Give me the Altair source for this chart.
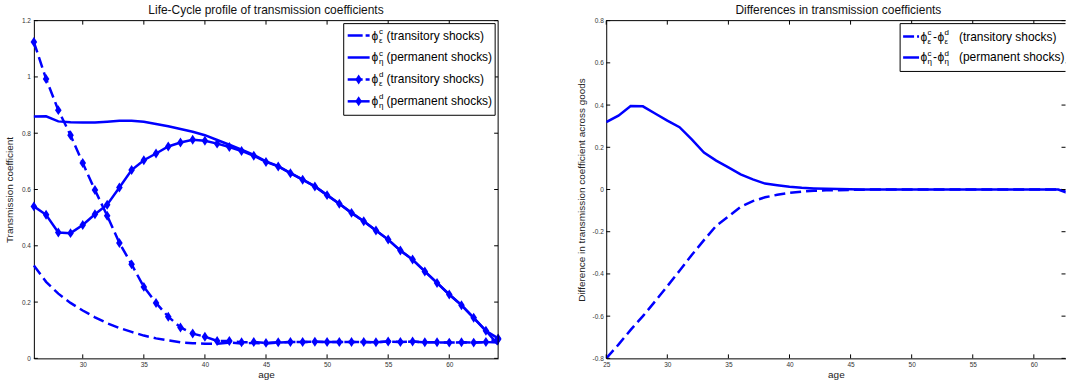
import altair as alt
import pandas as pd

# ---------------- data ----------------
ages_left = list(range(26, 65))
ages_right = list(range(25, 64))

phi_eps_c = [0.330, 0.272, 0.230, 0.197, 0.170, 0.146, 0.125, 0.108, 0.094, 0.081,
             0.071, 0.064, 0.057, 0.054, 0.052, 0.052, 0.056, 0.053, 0.055, 0.053,
             0.056, 0.058, 0.058, 0.059, 0.058, 0.058, 0.058, 0.058, 0.057, 0.060,
             0.058, 0.060, 0.057, 0.057, 0.056, 0.057, 0.056, 0.058, 0.056]
phi_eta_c = [0.859, 0.860, 0.842, 0.839, 0.838, 0.838, 0.841, 0.844, 0.844, 0.841,
             0.833, 0.825, 0.815, 0.805, 0.793, 0.776, 0.759, 0.742, 0.723, 0.700,
             0.683, 0.658, 0.635, 0.611, 0.580, 0.549, 0.517, 0.487, 0.454, 0.422,
             0.383, 0.351, 0.309, 0.268, 0.227, 0.189, 0.144, 0.098, 0.049]
phi_eps_d = [1.124, 0.993, 0.882, 0.793, 0.694, 0.598, 0.507, 0.410, 0.334, 0.254,
             0.197, 0.148, 0.110, 0.088, 0.077, 0.062, 0.062, 0.057, 0.058, 0.055,
             0.057, 0.058, 0.058, 0.059, 0.058, 0.058, 0.058, 0.058, 0.057, 0.060,
             0.058, 0.060, 0.057, 0.057, 0.056, 0.057, 0.056, 0.058, 0.068]
phi_eta_d = [0.540, 0.510, 0.447, 0.445, 0.474, 0.512, 0.546, 0.607, 0.669, 0.704,
             0.728, 0.753, 0.767, 0.777, 0.773, 0.763, 0.751, 0.737, 0.720, 0.698,
             0.682, 0.658, 0.635, 0.611, 0.580, 0.549, 0.517, 0.487, 0.454, 0.422,
             0.383, 0.351, 0.309, 0.268, 0.227, 0.189, 0.144, 0.098, 0.071]

diff_eps = [-0.800, -0.735, -0.665, -0.600, -0.530, -0.458, -0.385, -0.310, -0.240, -0.172,
            -0.128, -0.082, -0.055, -0.037, -0.025, -0.016, -0.010, -0.006, -0.004, -0.003,
            -0.002, -0.001, 0.000, 0.000, 0.000, 0.000, 0.000, 0.000, 0.000, 0.000,
            0.000, 0.000, 0.000, 0.000, 0.000, 0.000, 0.000, 0.000, -0.012]
diff_eta = [0.319, 0.350, 0.395, 0.394, 0.360, 0.326, 0.295, 0.237, 0.175, 0.137,
            0.105, 0.072, 0.048, 0.028, 0.020, 0.013, 0.008, 0.005, 0.003, 0.002,
            0.001, 0.000, 0.000, 0.000, 0.000, 0.000, 0.000, 0.000, 0.000, 0.000,
            0.000, 0.000, 0.000, 0.000, 0.000, 0.000, 0.000, 0.000, -0.022]

left_x_ticks = [30, 35, 40, 45, 50, 55, 60]
left_y_ticks = [0, 0.2, 0.4, 0.6, 0.8, 1.0, 1.2]
right_x_ticks = [25, 30, 35, 40, 45, 50, 55, 60]
right_y_ticks = [-0.8, -0.6, -0.4, -0.2, 0, 0.2, 0.4, 0.6, 0.8]

left_title = "Life-Cycle profile of transmission coefficients"
right_title = "Differences in transmission coefficients"
left_legend_labels = ["(transitory shocks)", "(permanent shocks)",
                      "(transitory shocks)", "(permanent shocks)"]
left_legend_sup = ["c", "c", "d", "d"]
left_legend_sub = ["ε", "η", "ε", "η"]
right_legend_labels = ["(transitory shocks)", "(permanent shocks)"]
right_legend_sub = ["ε", "η"]

# ---------------- style ----------------
BLUE = "#0000ff"
FONT = "Liberation Sans, Arial, Helvetica, sans-serif"
PHI = "\u03d5"
W_L, W_R, H = 466, 461, 339
X_MAX_R = 25 + W_R * 38 / W_L          # right panel is cut at the window edge
DASH = [11, 5]
DIAMOND = "M0,-1L0.66,0L0,1L-0.66,0Z"
DSIZE = 100
TICK = 4
LABEL_EXPR = "datum.value < 0 ? '-' + format(-datum.value, '~g') : format(datum.value, '~g')"


def main_x(title, ticks):
    return alt.Axis(orient="bottom", title=title, values=ticks, ticks=False, tickSize=0,
                    domain=True, domainColor="black", domainWidth=1, grid=False,
                    labelFont=FONT, labelFontSize=6.5, labelColor="#333", labelPadding=3,
                    labelFlush=False, labelOverlap=False, labelExpr=LABEL_EXPR,
                    titleFont=FONT, titleFontSize=10, titleFontWeight="normal",
                    titleColor="#222", titlePadding=1.5)


def main_y(title, ticks, lp, tp):
    return alt.Axis(orient="left", title=title, values=ticks, ticks=False, tickSize=0,
                    domain=True, domainColor="black", domainWidth=1, grid=False,
                    labelFont=FONT, labelFontSize=6.5, labelColor="#333", labelPadding=lp,
                    labelFlush=False, labelOverlap=False, labelExpr=LABEL_EXPR,
                    titleFont=FONT, titleFontSize=10, titleFontWeight="normal",
                    titleColor="#222", titlePadding=tp)


def series(df, xs, ys, xaxis=None, yaxis=None, dashed=False, points=False, clip=False):
    enc = dict(x=alt.X("age:Q", scale=xs, axis=xaxis), y=alt.Y("v:Q", scale=ys, axis=yaxis))
    if points:
        return alt.Chart(df).mark_point(shape=DIAMOND, filled=True, size=DSIZE, color=BLUE,
                                        opacity=1, clip=clip).encode(**enc)
    kw = dict(color=BLUE, strokeWidth=2.5, clip=clip)
    if dashed:
        kw["strokeDash"] = DASH
    return alt.Chart(df).mark_line(**kw).encode(**enc)


def inner_ticks(xticks, yticks, xs, ys, width):
    """MATLAB-style inward ticks on all four sides, placed through the scales."""
    dx = pd.DataFrame({"t": xticks})
    dy = pd.DataFrame({"t": yticks})
    rule = dict(color="black", strokeWidth=1)
    X = alt.X("t:Q", scale=xs, axis=None)
    Y = alt.Y("t:Q", scale=ys, axis=None)
    return [
        alt.Chart(dx).mark_rule(**rule).encode(x=X, y=alt.value(0), y2=alt.value(TICK)),
        alt.Chart(dx).mark_rule(**rule).encode(x=X, y=alt.value(H - TICK), y2=alt.value(H)),
        alt.Chart(dy).mark_rule(**rule).encode(y=Y, x=alt.value(0), x2=alt.value(TICK)),
        alt.Chart(dy).mark_rule(**rule).encode(y=Y, x=alt.value(width - TICK), x2=alt.value(width)),
    ]


one = pd.DataFrame({"k": [0]})


def hline(x1, x2, y):
    return alt.Chart(one).mark_rule(color="black", strokeWidth=1).encode(
        x=alt.value(x1), x2=alt.value(x2), y=alt.value(y))


def vline(x, y1, y2):
    return alt.Chart(one).mark_rule(color="black", strokeWidth=1).encode(
        x=alt.value(x), y=alt.value(y1), y2=alt.value(y2))


def txt(x, y, s, size=12, align="left", baseline="middle", color="black"):
    return alt.Chart(one).mark_text(align=align, baseline=baseline, font=FONT,
                                    fontSize=size, color=color).encode(
        x=alt.value(x), y=alt.value(y), text=alt.value(s))


def box(x1, x2, y1, y2, clip=False):
    return alt.Chart(one).mark_rect(fill="white", stroke="black", strokeWidth=1,
                                    clip=clip).encode(
        x=alt.value(x1), x2=alt.value(x2), y=alt.value(y1), y2=alt.value(y2))


def sample(x1, x2, y, dash):
    kw = dict(color=BLUE, strokeWidth=2.5)
    if dash:
        kw["strokeDash"] = dash
    return alt.Chart(one).mark_rule(**kw).encode(x=alt.value(x1), x2=alt.value(x2), y=alt.value(y))


def marker(x, y):
    return alt.Chart(one).mark_point(shape=DIAMOND, filled=True, size=DSIZE, color=BLUE,
                                     opacity=1).encode(x=alt.value(x), y=alt.value(y))


# ---------------- left panel ----------------
xs_l = alt.Scale(domain=[26, 64], nice=False, zero=False)
ys_l = alt.Scale(domain=[0, 1.2], nice=False, zero=False)

d_eps_c = pd.DataFrame({"age": ages_left, "v": phi_eps_c})
d_eta_c = pd.DataFrame({"age": ages_left, "v": phi_eta_c})
d_eps_d = pd.DataFrame({"age": ages_left, "v": phi_eps_d})
d_eta_d = pd.DataFrame({"age": ages_left, "v": phi_eta_d})

left_layers = [
    series(d_eps_c, xs_l, ys_l, main_x("age", left_x_ticks),
           main_y("Transmission coefficient", left_y_ticks, 3.5, 6.5), dashed=True),
    series(d_eta_c, xs_l, ys_l),
    series(d_eps_d, xs_l, ys_l, dashed=True),
    series(d_eps_d, xs_l, ys_l, points=True),
    series(d_eta_d, xs_l, ys_l),
    series(d_eta_d, xs_l, ys_l, points=True),
]
left_layers += inner_ticks(left_x_ticks, left_y_ticks, xs_l, ys_l, W_L)
left_layers += [hline(0, W_L, 0), vline(W_L, 0, H), box(311, 463, 3, 95),
                txt(W_L / 2, -6.5, left_title, 12, "center", "alphabetic", "#111")]
for i in range(4):
    y = 15 + 22 * i
    left_layers.append(sample(315, 337, y, [15, 3] if i % 2 == 0 else None))
    if i >= 2:
        left_layers.append(marker(326, y))
    left_layers += [
        txt(339, y, PHI, 12),
        txt(346.5, y - 4, left_legend_sup[i], 8),
        txt(346.5, y + 5, left_legend_sub[i], 8),
        txt(354, y, left_legend_labels[i], 12),
    ]

left = alt.layer(*left_layers).resolve_axis(x="independent", y="independent").properties(
    width=W_L, height=H)

# ---------------- right panel ----------------
xs_r = alt.Scale(domain=[25, X_MAX_R], nice=False, zero=False)
ys_r = alt.Scale(domain=[-0.8, 0.8], nice=False, zero=False)

d_diff_eps = pd.DataFrame({"age": ages_right, "v": diff_eps})
d_diff_eta = pd.DataFrame({"age": ages_right, "v": diff_eta})

right_layers = [
    series(d_diff_eps, xs_r, ys_r, main_x("age", right_x_ticks),
           main_y("Difference in transmission coefficient across goods", right_y_ticks, 3, 6),
           dashed=True, clip=True),
    series(d_diff_eta, xs_r, ys_r, clip=True),
]
right_layers += inner_ticks(right_x_ticks, right_y_ticks, xs_r, ys_r, W_R)
right_layers += [hline(0, W_R, 0), box(295, 480, 3, 51, clip=True),
                 txt(W_R / 2 + 2.5, -6.5, right_title, 12, "center", "alphabetic", "#111")]
for i in range(2):
    y = 16 + 21 * i
    right_layers += [
        sample(298, 314, y, [11, 3] if i == 0 else None),
        txt(315.5, y, PHI, 12),
        txt(322.5, y - 4, "c", 8),
        txt(322.5, y + 5, right_legend_sub[i], 8),
        txt(328, y, "-", 12),
        txt(332.5, y, PHI, 12),
        txt(339.5, y - 4, "d", 8),
        txt(339.5, y + 5, right_legend_sub[i], 8),
        txt(354, y, right_legend_labels[i], 12),
    ]

right = alt.layer(*right_layers).resolve_axis(x="independent", y="independent").properties(
    width=W_R, height=H)

chart = alt.hconcat(left, right, spacing=72.5).properties(
    padding={"left": 4, "top": 3, "right": 0, "bottom": 0},
    background="white",
).configure_view(stroke=None)

chart.save("out.html", embed_options={"renderer": "svg", "actions": False})
